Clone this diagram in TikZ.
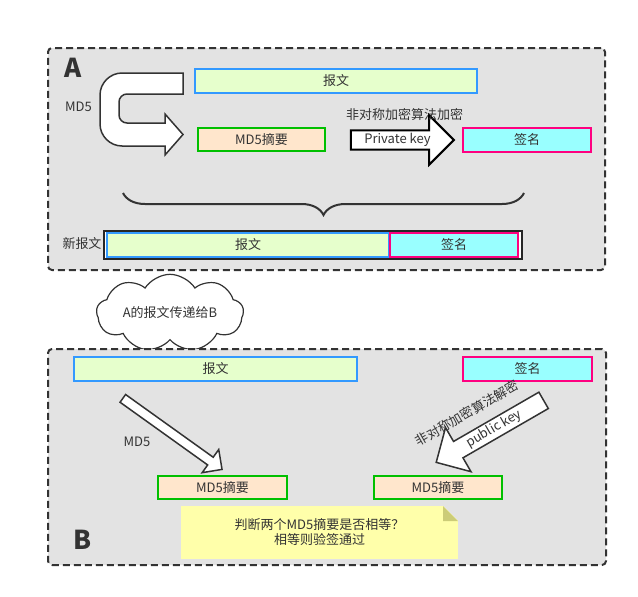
\documentclass[tikz,border=0pt]{standalone}
\usepackage{fontspec}
\setmainfont{Noto Sans CJK SC}
\usepackage{tikz}
\usetikzlibrary{shapes.arrows, shapes.symbols, decorations.pathreplacing}
\definecolor{ink}{HTML}{333333}
\definecolor{pgray}{HTML}{E3E3E3}
\definecolor{mblue}{HTML}{3399FF}
\definecolor{mgreen}{HTML}{E6FFCC}
\definecolor{dgreen}{HTML}{00C000}
\definecolor{dpeach}{HTML}{FFE6CC}
\definecolor{spink}{HTML}{FF0080}
\definecolor{scyan}{HTML}{99FFFF}
\definecolor{nyellow}{HTML}{FFFFAA}
\definecolor{nfold}{HTML}{CCCC77}
\tikzset{
  panel/.style={draw=ink, fill=pgray, line width=2pt, dash pattern=on 7pt off 4pt,
                rounded corners=4pt},
  box/.style={line width=2pt, minimum height=24pt, text=ink, inner sep=0pt,
              font=\fontsize{13}{15}\selectfont},
  msg/.style={box, draw=mblue, fill=mgreen},
  dig/.style={box, draw=dgreen, fill=dpeach, minimum height=23pt},
  sig/.style={box, draw=spink, fill=scyan},
  blk/.style={single arrow, draw=ink, fill=white, line width=1.5pt, text=ink,
              single arrow head extend=15pt, inner sep=2pt,
              font=\fontsize{13}{15}\selectfont},
  lbl/.style={text=ink, font=\fontsize{13}{15}\selectfont, inner sep=0pt},
  big/.style={text=ink, font=\fontsize{26}{26}\selectfont\bfseries, inner sep=0pt}
}
\begin{document}
\begin{tikzpicture}[x=1pt, y=-1pt]
  \useasboundingbox (0,0) rectangle (638,597);
  % Panel A
  \node[panel, minimum width=557pt, minimum height=222pt] (panA) at (326.5,159) {};
  \node[big] (labA) at (73,68) {A};
  \node[msg, minimum width=282pt] (a-msg) at (336,81) {报文};
  \node[dig, minimum width=127pt] (a-dig) at (261.5,139.5) {MD5摘要};
  \node[sig, minimum width=128pt] (a-sig) at (527,139.5) {签名};
  \node[lbl] (a-md5) at (78.5,107) {MD5};
  \draw[draw=ink, fill=white, line width=1.5pt] (183,73) -- (122,73)
    .. controls (110,73) and (100,83) .. (100,95) -- (100,124)
    .. controls (100,136) and (110,146) .. (122,146) -- (165,146) -- (165,155)
    -- (183,134.5) -- (165,114) -- (165,123) -- (127,123)
    .. controls (122.6,123) and (119,119.4) .. (119,115) -- (119,102)
    .. controls (119,97.6) and (122.6,94) .. (127,94) -- (183,94) -- cycle;
  \node[blk, draw=black, line width=2pt, minimum height=103pt, minimum width=46pt] (prv) at (397.5,140) {Private key};
  \node[lbl] (enc) at (404.5,115) {非对称加密算法加密};
  \draw[draw=ink, line width=2pt, decorate, decoration={brace, amplitude=22pt}] (524,193) -- (123,193);
  % new message
  \node[draw=black!85, fill=white, line width=2pt, minimum width=418pt, minimum height=28pt] (newmsg) at (313,245) {};
  \node[msg, minimum width=282pt] (n-msg) at (248,245) {报文};
  \node[sig, minimum width=128pt] (n-sig) at (454,245) {签名};
  \node[lbl] (n-lbl) at (82,244) {新报文};
  % transfer
  \node[cloud, cloud puffs=9, cloud puff arc=115, aspect=2.4, draw=ink, fill=white, line width=1.2pt,
        minimum width=147pt, minimum height=62pt, inner sep=0pt, lbl] (trans) at (170,313) {A的报文传递给B};
  % Panel B
  \node[panel, minimum width=558pt, minimum height=216pt] (panB) at (327,457) {};
  \node[big] (labB) at (83,540) {B};
  \node[msg, minimum width=283pt] (b-msg) at (215.5,369) {报文};
  \node[sig, minimum width=129pt] (b-sig) at (527.5,368.5) {签名};
  \node[dig, minimum width=129pt] (b-dig1) at (222.5,487.5) {MD5摘要};
  \node[dig, minimum width=128pt] (b-dig2) at (438,487.5) {MD5摘要};
  \node[blk, rotate=-35.6, minimum height=122pt, minimum width=27pt, inner sep=4pt,
        single arrow head extend=9.5pt] (b-hash) at (170.5,432.5) {};
  \node[lbl] (b-md5) at (137,442) {MD5};
  \node[blk, rotate=30, shape border rotate=180, minimum height=124pt, minimum width=48pt,
        single arrow head extend=16pt] (pub) at (494,429) {public key};
  \node[lbl, rotate=30] (dec) at (467,413) {非对称加密算法解密};
  % note
  \node[fill=nyellow, minimum width=277pt, minimum height=53pt, inner sep=0pt] (note) at (319.5,532.5) {};
  \fill[pgray] (443,505.5) -- (458.5,505.5) -- (458.5,521) -- cycle;
  \fill[nfold] (443,506) -- (443,521) -- (458,521) -- cycle;
  \node[lbl, align=center] (note-txt) at (319.5,532) {判断两个MD5摘要是否相等？\\相等则验签通过};
\end{tikzpicture}
\end{document}
